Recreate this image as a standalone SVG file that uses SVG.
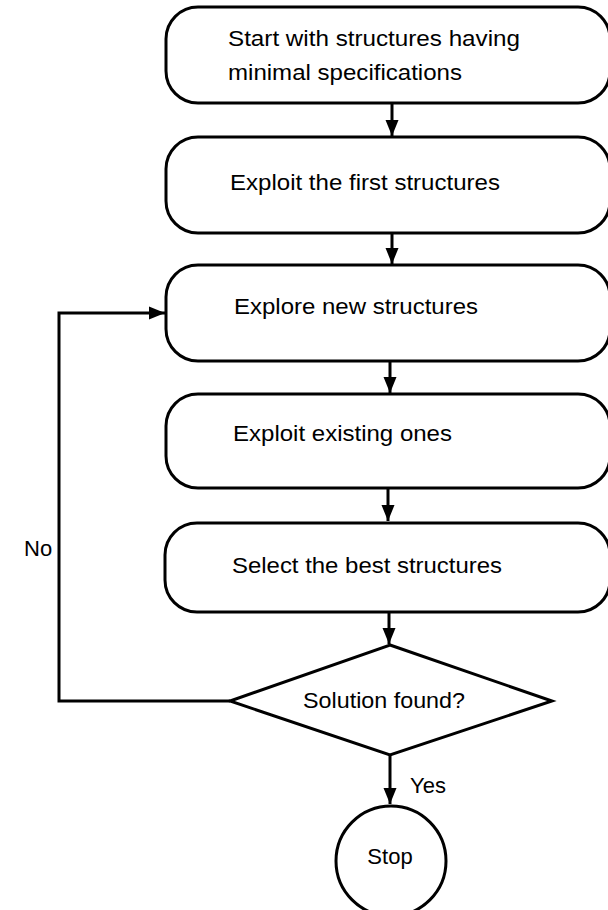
<svg xmlns="http://www.w3.org/2000/svg" width="608" height="910" viewBox="0 0 608 910">
  <style>
    .box { fill: #ffffff; stroke: #000000; stroke-width: 3; }
    .lbl { font-family: "Liberation Sans", Arial, sans-serif; font-size: 22px; fill: #000000; }
    .mid { text-anchor: middle; }
    .wire { fill: none; stroke: #000000; stroke-width: 3; }
  </style>
  <defs>
    <marker id="arrow" markerUnits="userSpaceOnUse" markerWidth="16" markerHeight="14" viewBox="0 0 16 14" refX="16" refY="7" orient="auto">
      <path d="M0,0.5 L16,7 L0,13.5 Z" fill="#000000"/>
    </marker>
  </defs>
  <rect width="608" height="910" fill="#ffffff"/>

  <g id="connectors">
    <line class="wire" x1="392" y1="103" x2="392" y2="136" marker-end="url(#arrow)"/>
    <line class="wire" x1="392" y1="233" x2="392" y2="264" marker-end="url(#arrow)"/>
    <line class="wire" x1="390" y1="361" x2="390" y2="393" marker-end="url(#arrow)"/>
    <line class="wire" x1="388" y1="488" x2="388" y2="521" marker-end="url(#arrow)"/>
    <line class="wire" x1="389" y1="612" x2="389" y2="644" marker-end="url(#arrow)"/>
    <line class="wire" x1="390" y1="755" x2="390" y2="804" marker-end="url(#arrow)"/>
    <polyline class="wire" points="230,701 59,701 59,313 165,313" marker-end="url(#arrow)"/>
    <text class="lbl" x="410" y="793">Yes</text>
    <text class="lbl" x="24" y="556">No</text>
  </g>

  <g id="start">
    <rect class="box" x="166" y="7" width="444" height="96" rx="32" ry="32"/>
    <text class="lbl" x="228" y="46" textLength="292" lengthAdjust="spacingAndGlyphs">Start with structures having</text>
    <text class="lbl" x="228" y="80" textLength="234" lengthAdjust="spacingAndGlyphs">minimal specifications</text>
  </g>

  <g id="exploit-first">
    <rect class="box" x="166" y="137" width="444" height="96" rx="32" ry="32"/>
    <text class="lbl" x="230" y="190" textLength="270" lengthAdjust="spacingAndGlyphs">Exploit the first structures</text>
  </g>

  <g id="explore">
    <rect class="box" x="166" y="265" width="444" height="96" rx="32" ry="32"/>
    <text class="lbl" x="234" y="314" textLength="244" lengthAdjust="spacingAndGlyphs">Explore new structures</text>
  </g>

  <g id="exploit-existing">
    <rect class="box" x="166" y="394" width="444" height="94" rx="32" ry="32"/>
    <text class="lbl" x="233" y="441" textLength="219" lengthAdjust="spacingAndGlyphs">Exploit existing ones</text>
  </g>

  <g id="select">
    <rect class="box" x="165" y="523" width="445" height="89" rx="32" ry="32"/>
    <text class="lbl" x="232" y="573" textLength="270" lengthAdjust="spacingAndGlyphs">Select the best structures</text>
  </g>

  <g id="decision">
    <polygon class="box" points="390,645 552,701 390,755 230,701"/>
    <text class="lbl" x="303" y="708" textLength="162" lengthAdjust="spacingAndGlyphs">Solution found?</text>
  </g>

  <g id="stop">
    <circle class="box" cx="391" cy="861" r="55"/>
    <text class="lbl mid" x="390" y="864">Stop</text>
  </g>
</svg>
